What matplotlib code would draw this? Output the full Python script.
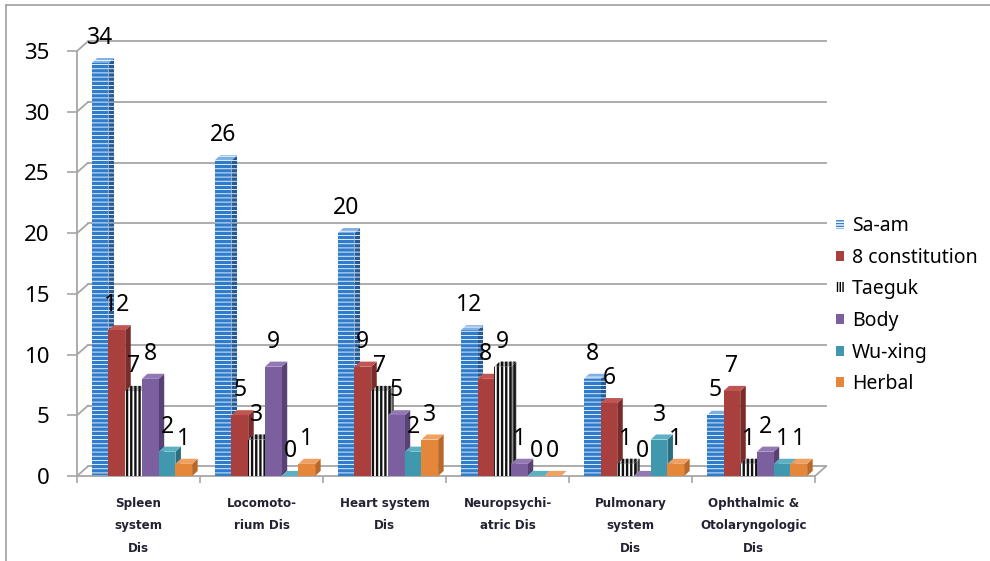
import matplotlib
matplotlib.use("Agg")
import matplotlib.pyplot as plt
from matplotlib.patches import Polygon, Rectangle
from matplotlib.lines import Line2D

plt.rcParams['font.family'] = ['Noto Sans', 'DejaVu Sans']
plt.rcParams['hatch.linewidth'] = 1.0

GRID_GRAY = "#a6a6a6"

categories = ["Spleen\nsystem\nDis", "Locomoto-\nrium Dis", "Heart system\nDis",
              "Neuropsychi-\natric Dis", "Pulmonary\nsystem\nDis",
              "Ophthalmic &\nOtolaryngologic\nDis"]
series = ["Sa-am", "8 constitution", "Taeguk", "Body", "Wu-xing", "Herbal"]

sa_am = [34, 26, 20, 12, 8, 5]
constitution8 = [12, 5, 9, 8, 6, 7]
taeguk = [7, 3, 7, 9, 1, 1]
body = [8, 9, 5, 1, 0, 2]
wu_xing = [2, 0, 2, 0, 3, 1]
herbal = [1, 1, 3, 0, 1, 1]
values = [sa_am, constitution8, taeguk, body, wu_xing, herbal]

yticks = [0, 5, 10, 15, 20, 25, 30, 35]

# front / side / top colours, hatch, hatch colour, hatch width
styles = [
    dict(front="#2f7ccc", side="#245a95", top="#7fb0e2", hatch="----", hc="white", hw=0.6),
    dict(front="#a9403d", side="#7b2c2a", top="#c05552", hatch=None, hc=None, hw=None),
    dict(front="white", side="#909090", top="#bdbdbd", hatch="||||", hc="#111111", hw=1.7),
    dict(front="#7b5f9e", side="#574273", top="#9279b3", hatch=None, hc=None, hw=None),
    dict(front="#3f98ae", side="#2c6f80", top="#5cb0c4", hatch=None, hc=None, hw=None),
    dict(front="#e5873a", side="#b8692a", top="#f0a060", hatch=None, hc=None, hw=None),
]


def set_hatch(p, hatch, color, width):
    p.set_hatch(hatch)
    p.set_edgecolor(color)
    if hasattr(p, "set_hatch_linewidth"):
        p.set_hatch_linewidth(width)


fig = plt.figure(figsize=(9.9, 5.61), dpi=100)
ax = fig.add_axes([77 / 990, 85 / 561, 755 / 990, 446 / 561])
ax.set_xlim(-0.5, 5.638)
ax.set_ylim(0, 36.73)

# back wall offsets and bar depth (data units)
wx, wy = 0.09, 0.8
bx, by = 0.045, 0.42
bw = 0.136
lead = 0.12

n = len(categories)
for v in yticks:
    ax.plot([-0.5 + wx, n - 0.5 + wx], [v + wy, v + wy], color=GRID_GRAY, lw=1.3, zorder=1)
    ax.plot([-0.5, -0.5 + wx], [v, v + wy], color=GRID_GRAY, lw=1.3, zorder=1)
ax.plot([n - 0.5, n - 0.5 + wx], [0, wy], color=GRID_GRAY, lw=1.3, zorder=1)

z = 2
for g in range(n):
    for i, (vals, st) in enumerate(zip(values, styles)):
        h = vals[g]
        x0 = g - 0.5 + lead + i * bw
        x1 = x0 + bw
        side = Polygon([(x1, 0), (x1 + bx, by), (x1 + bx, h + by), (x1, h)],
                       closed=True, facecolor=st["side"], lw=0, zorder=z)
        top = Polygon([(x0, h), (x0 + bx, h + by), (x1 + bx, h + by), (x1, h)],
                      closed=True, facecolor=st["top"], lw=0, zorder=z)
        front = Rectangle((x0, 0), bw, h, facecolor=st["front"], lw=0, zorder=z + 0.5)
        for p in (side, top, front):
            if st["hatch"]:
                set_hatch(p, st["hatch"], st["hc"], st["hw"])
            ax.add_patch(p)
        ax.annotate(str(h), (x0 + bw / 2, h), xytext=(0, 18), textcoords="offset points",
                    ha="center", va="center", fontsize=16.5, color="black", zorder=50)
        z += 1

for s in ["top", "right"]:
    ax.spines[s].set_visible(False)
ax.spines["left"].set_bounds(0, 35)
ax.spines["bottom"].set_bounds(-0.5, n - 0.5)
for s in ["left", "bottom"]:
    ax.spines[s].set_color(GRID_GRAY)
    ax.spines[s].set_linewidth(1.3)

ax.set_yticks(yticks)
ax.set_yticklabels([str(v) for v in yticks], fontsize=16)
ax.tick_params(axis="y", length=7, width=1.2, color=GRID_GRAY, pad=13)

ax.set_xticks(range(n))
ax.set_xticklabels(categories, fontsize=8.6, fontweight="bold", linespacing=1.95,
                   color="#222233", family="DejaVu Sans")
ax.set_xticks([g - 0.5 for g in range(n + 1)], minor=True)
ax.tick_params(axis="x", which="major", length=0, pad=15)
ax.tick_params(axis="x", which="minor", length=5, width=1.2, color=GRID_GRAY)

h_saam = Rectangle((0, 0), 1, 1, facecolor="white", lw=0)
set_hatch(h_saam, "------", styles[0]["front"], 1.1)
h_taeguk = Rectangle((0, 0), 1, 1, facecolor="white", lw=0)
set_hatch(h_taeguk, "||||||", "black", 1.3)
handles = [h_saam,
           Rectangle((0, 0), 1, 1, facecolor=styles[1]["front"], lw=0),
           h_taeguk,
           Rectangle((0, 0), 1, 1, facecolor=styles[3]["front"], lw=0),
           Rectangle((0, 0), 1, 1, facecolor=styles[4]["front"], lw=0),
           Rectangle((0, 0), 1, 1, facecolor=styles[5]["front"], lw=0)]
fig.legend(handles, series, loc="upper left", bbox_to_anchor=(836 / 990, 1 - 216 / 561),
           frameon=False, fontsize=14, handlelength=0.43, handleheight=0.43,
           handletextpad=0.4, labelspacing=0.6, borderpad=0, borderaxespad=0)

fig.add_artist(Line2D([6 / 990, 1], [1 - 5 / 561, 1 - 5 / 561], transform=fig.transFigure,
                      color="#a0a0a0", lw=1.2))
fig.add_artist(Line2D([6 / 990, 6 / 990], [0, 1 - 5 / 561], transform=fig.transFigure,
                      color="#a0a0a0", lw=1.2))

fig.savefig("out.png", dpi=100)
